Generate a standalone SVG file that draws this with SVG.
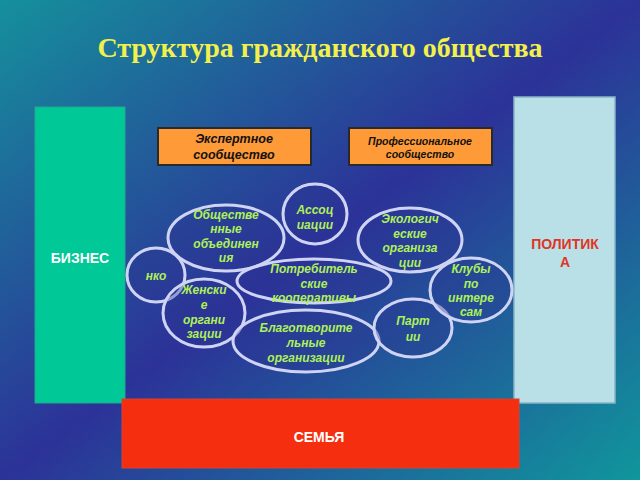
<svg xmlns="http://www.w3.org/2000/svg" width="640" height="480" viewBox="0 0 640 480">
<defs>
<linearGradient id="bg" x1="0" y1="0" x2="1" y2="1">
<stop offset="0" stop-color="#15909c"/>
<stop offset="0.5" stop-color="#2c3298"/>
<stop offset="1" stop-color="#10969c"/>
</linearGradient>
</defs>
<style>
.title{font-family:"Liberation Serif",serif;font-weight:bold;font-size:28px;fill:#f2f04a;text-anchor:middle}
.big{font-family:"Liberation Sans",Arial,sans-serif;font-weight:bold;font-size:14px;text-anchor:middle}
.box{fill:#ff9a38;stroke:#2a2a2a;stroke-width:2}
.bt{font-family:"Liberation Sans",Arial,sans-serif;font-weight:bold;font-style:italic;font-size:12.5px;fill:#111;text-anchor:middle}
.el{fill:#2a3592;fill-opacity:0.35;stroke:#d0d4f4;stroke-width:3}
.et{font-family:"Liberation Sans",Arial,sans-serif;font-weight:bold;font-style:italic;font-size:12px;fill:#aef058;text-anchor:middle}
</style>
<rect width="640" height="480" fill="url(#bg)"/>
<text class="title" x="320" y="57">Структура гражданского общества</text>

<g id="biznes">
<rect x="35" y="107" width="90" height="296" fill="#00c896" stroke="#20a890" stroke-width="1"/>
<text class="big" x="80" y="263" fill="#ffffff">БИЗНЕС</text>
</g>
<g id="politika">
<rect x="514" y="97" width="101" height="306" fill="#b8e0e6" stroke="#88b4c8" stroke-width="1.5"/>
<text class="big" x="565" y="249" fill="#e03424">ПОЛИТИК</text>
<text class="big" x="565" y="267" fill="#e03424">А</text>
</g>
<g id="semya">
<rect x="122" y="399" width="397" height="69" fill="#f52e10" stroke="#d84030" stroke-width="1"/>
<text class="big" x="319" y="442" fill="#ffffff">СЕМЬЯ</text>
</g>

<g id="expert">
<rect class="box" x="158" y="128" width="153" height="37"/>
<text class="bt" x="234" y="143">Экспертное</text>
<text class="bt" x="234" y="159">сообщество</text>
</g>
<g id="prof">
<rect class="box" x="349" y="128" width="143" height="37"/>
<text class="bt" x="420" y="145" style="font-size:10.5px">Профессиональное</text>
<text class="bt" x="420" y="158" style="font-size:10.5px">сообщество</text>
</g>

<g id="obshch">
<ellipse class="el" cx="226" cy="238" rx="58" ry="33"/>
<text class="et" x="226" y="219">Обществе</text>
<text class="et" x="226" y="233">нные</text>
<text class="et" x="226" y="248">объединен</text>
<text class="et" x="226" y="262">ия</text>
</g>
<g id="assoc">
<ellipse class="el" cx="315" cy="214" rx="32" ry="30"/>
<text class="et" x="315" y="214">Ассоц</text>
<text class="et" x="315" y="229">иации</text>
</g>
<g id="eko">
<ellipse class="el" cx="410" cy="240" rx="52" ry="32"/>
<text class="et" x="410" y="223">Экологич</text>
<text class="et" x="410" y="238">еские</text>
<text class="et" x="410" y="252">организа</text>
<text class="et" x="410" y="267">ции</text>
</g>
<g id="nko">
<ellipse class="el" cx="156" cy="275" rx="29" ry="27"/>
<text class="et" x="156" y="280">нко</text>
</g>
<g id="potreb">
<ellipse class="el" cx="314" cy="281" rx="77" ry="22"/>
<text class="et" x="314" y="273">Потребитель</text>
<text class="et" x="314" y="288">ские</text>
<text class="et" x="314" y="302">кооперативы</text>
</g>
<g id="zhensk">
<ellipse class="el" cx="204" cy="313" rx="41" ry="34"/>
<text class="et" x="204" y="294">Женски</text>
<text class="et" x="204" y="309">е</text>
<text class="et" x="204" y="324">органи</text>
<text class="et" x="204" y="338">зации</text>
</g>
<g id="blago">
<ellipse class="el" cx="306" cy="341" rx="73" ry="31"/>
<text class="et" x="306" y="332">Благотворите</text>
<text class="et" x="306" y="347">льные</text>
<text class="et" x="306" y="362">организации</text>
</g>
<g id="partii">
<ellipse class="el" cx="413" cy="328" rx="39" ry="29"/>
<text class="et" x="413" y="325">Парт</text>
<text class="et" x="413" y="341">ии</text>
</g>
<g id="kluby">
<ellipse class="el" cx="471" cy="290" rx="41" ry="32"/>
<text class="et" x="471" y="273">Клубы</text>
<text class="et" x="471" y="288">по</text>
<text class="et" x="471" y="302">интере</text>
<text class="et" x="471" y="316">сам</text>
</g>
<g id="connectors"/>
</svg>
